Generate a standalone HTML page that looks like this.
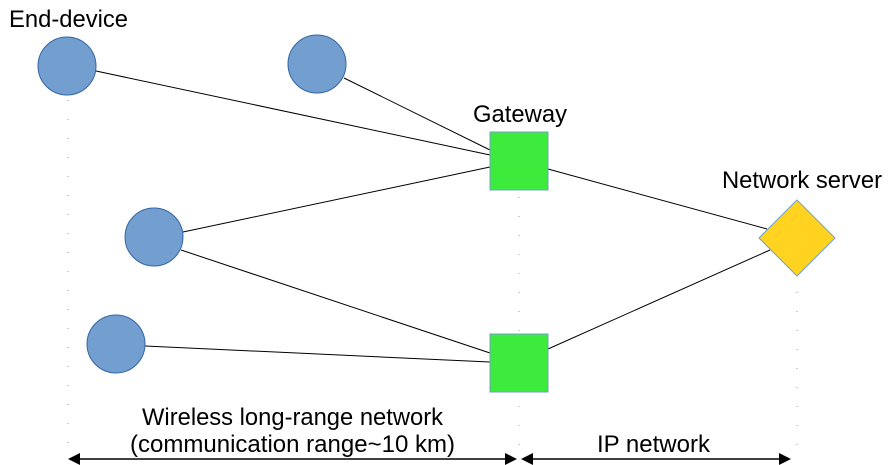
<!DOCTYPE html>
<html><head><meta charset="utf-8"><style>body{margin:0;background:#fff}svg{display:block}</style></head><body>
<svg width="893" height="465" viewBox="0 0 893 465" xmlns="http://www.w3.org/2000/svg" font-family="Liberation Sans, sans-serif">
<g stroke="#999" stroke-width="1" stroke-dasharray="1,18">
<line x1="68" y1="100" x2="68" y2="455"/>
<line x1="519" y1="197" x2="519" y2="455"/>
<line x1="797" y1="292" x2="797" y2="455"/>
</g>
<g stroke="#000" stroke-width="1">
<line x1="96" y1="71" x2="490" y2="155"/>
<line x1="344" y1="78" x2="490" y2="150"/>
<line x1="183" y1="232" x2="490" y2="167"/>
<line x1="181" y1="250" x2="490" y2="353"/>
<line x1="145" y1="346" x2="490" y2="362"/>
<line x1="548" y1="169" x2="767" y2="229"/>
<line x1="548" y1="349" x2="770" y2="250"/>
</g>
<g fill="#729fcf" stroke="#3465a4" stroke-width="1">
<circle cx="67" cy="66" r="29"/>
<circle cx="317" cy="64" r="29"/>
<circle cx="154" cy="237" r="29"/>
<circle cx="116" cy="344" r="29"/>
</g>
<rect x="490" y="132" width="58" height="58" fill="#3deb3d" stroke="#729fcf"/>
<rect x="490" y="334" width="58" height="58" fill="#3deb3d" stroke="#729fcf"/>
<polygon points="797,200 835,238 797,276 759,238" fill="#ffd320" stroke="#729fcf"/>
<g stroke="#000" stroke-width="1.5">
<line x1="75" y1="459" x2="508" y2="459"/>
<line x1="528" y1="459" x2="784" y2="459"/>
</g>
<g fill="#000">
<polygon points="68,459 80,453 80,465"/>
<polygon points="517,459 505,453 505,465"/>
<polygon points="521,459 533,453 533,465"/>
<polygon points="791,459 779,453 779,465"/>
</g>
<g font-size="24" fill="#000">
<text x="9" y="27" textLength="119" lengthAdjust="spacingAndGlyphs">End-device</text>
<text x="473" y="122" textLength="94" lengthAdjust="spacingAndGlyphs">Gateway</text>
<text x="722" y="188" textLength="160" lengthAdjust="spacingAndGlyphs">Network server</text>
<text x="142" y="425" textLength="301" lengthAdjust="spacingAndGlyphs">Wireless long-range network</text>
<text x="130" y="452" textLength="325" lengthAdjust="spacingAndGlyphs">(communication range~10 km)</text>
<text x="597" y="452" textLength="113" lengthAdjust="spacingAndGlyphs">IP network</text>
</g>
</svg>
</body></html>
